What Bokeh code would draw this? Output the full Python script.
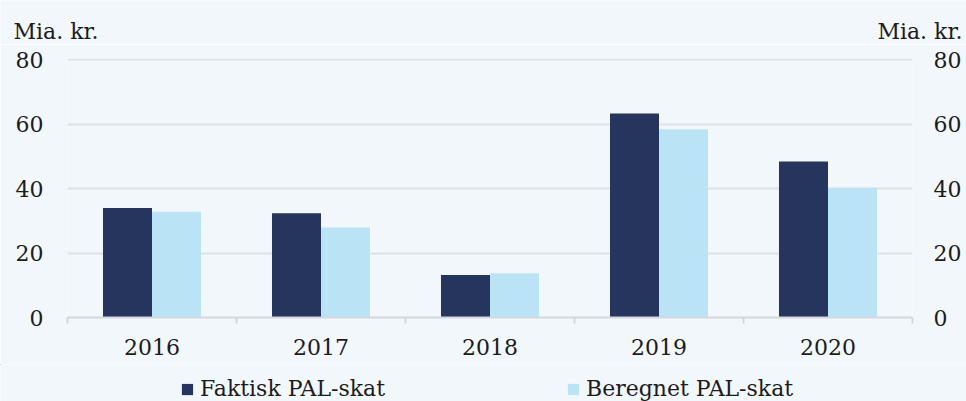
from bokeh.plotting import figure
from bokeh.layouts import column
from bokeh.models import (ColumnDataSource, LinearAxis, FixedTicker, Range1d,
                          Legend, LegendItem, Label)
from bokeh.embed import file_html
from bokeh.resources import INLINE

years = ["2016", "2017", "2018", "2019", "2020"]
faktisk = [34.0, 32.4, 13.2, 63.3, 48.4]
beregnet = [32.8, 27.9, 13.7, 58.4, 40.2]
y_ticks = [0, 20, 40, 60, 80]
unit_label = "Mia. kr."
series_names = ["Faktisk PAL-skat", "Beregnet PAL-skat"]

DARK = "#26355d"
LIGHT = "#bae3f6"
BG = "#f2f7fc"
GRID = "#dde2e8"
AXIS = "#d3d8de"
TXT = "#1c1c1c"
FONT = "DejaVu Serif"
FS = "22px"
W = 966

centers = [i + 0.5 for i in range(len(years))]
bw = 0.29
src = ColumnDataSource(dict(
    xd=[c - bw / 2 for c in centers],
    xl=[c + bw / 2 for c in centers],
    faktisk=faktisk, beregnet=beregnet))


def bare(height, x_range, y_range):
    f = figure(width=W, height=height, output_backend="svg", toolbar_location=None,
               x_range=x_range, y_range=y_range, frame_align=False,
               min_border=0, background_fill_color=BG, border_fill_color=BG,
               outline_line_color=None, x_axis_location=None, y_axis_location=None)
    f.grid.visible = False
    return f


# --- top strip with unit labels
top = bare(44, Range1d(0, 1), Range1d(0, 1))
for x, align in ((13, "left"), (962, "right")):
    top.add_layout(Label(x=x, y=13, x_units="screen", y_units="screen",
                         text=unit_label, text_font=FONT, text_font_size=FS,
                         text_color=TXT, text_align=align, text_baseline="alphabetic"))

# --- main chart
p = figure(width=W, height=320, output_backend="svg", toolbar_location=None,
           x_range=Range1d(0, len(years)), y_range=Range1d(0, 80.4),
           min_border_left=67, min_border_right=54, min_border_top=14,
           min_border_bottom=47, background_fill_color=BG,
           border_fill_color=BG, outline_line_color=None, frame_align=False,
           x_axis_location=None, y_axis_location=None)

p.vbar(x="xd", top="faktisk", width=bw, source=src, fill_color=DARK, line_color=None)
p.vbar(x="xl", top="beregnet", width=bw, source=src, fill_color=LIGHT, line_color=None)

xt = FixedTicker(ticks=centers, minor_ticks=list(range(len(years) + 1)))
xax = LinearAxis(ticker=xt, major_label_overrides={c: y for c, y in zip(centers, years)})
xax.axis_line_color = AXIS
xax.axis_line_width = 2
xax.major_tick_line_color = None
xax.major_tick_out = 0
xax.minor_tick_line_color = AXIS
xax.minor_tick_line_width = 2
xax.minor_tick_out = 6
xax.minor_tick_in = 0
xax.major_label_text_font = FONT
xax.major_label_text_font_size = FS
xax.major_label_text_color = TXT
xax.major_label_standoff = 15
p.add_layout(xax, "below")

yt = FixedTicker(ticks=y_ticks, minor_ticks=[])
for side, standoff in (("left", 24), ("right", 21)):
    ax = LinearAxis(ticker=yt)
    ax.axis_line_color = None
    ax.major_tick_line_color = None
    ax.major_tick_out = 0
    ax.major_tick_in = 0
    ax.minor_tick_line_color = None
    ax.major_label_text_font = FONT
    ax.major_label_text_font_size = FS
    ax.major_label_text_color = TXT
    ax.major_label_standoff = standoff
    p.add_layout(ax, side)

p.xgrid.visible = False
p.ygrid.ticker = FixedTicker(ticks=y_ticks[1:])
p.ygrid.grid_line_color = GRID
p.ygrid.grid_line_width = 2

# --- legend strip (its zero-width bars lie outside its visible ranges; only the legend shows)
leg = bare(37, Range1d(100, 101), Range1d(-2, -1))
g1 = leg.vbar(x="xd", top="faktisk", width=0, source=src, fill_color=DARK, line_color=None)
g2 = leg.vbar(x="xl", top="beregnet", width=0, source=src, fill_color=LIGHT, line_color=None)
legend = Legend(items=[LegendItem(label=series_names[0], renderers=[g1]),
                       LegendItem(label=series_names[1], renderers=[g2])],
                orientation="horizontal", location=(180, 0),
                label_text_font=FONT, label_text_font_size=FS,
                label_text_color=TXT, glyph_width=14, glyph_height=14,
                label_standoff=6, spacing=181, padding=0, margin=0,
                background_fill_alpha=0, border_line_color=None)
leg.add_layout(legend)

layout = column(top, p, leg, spacing=0)
open("out.html", "w").write(file_html(layout, INLINE))
